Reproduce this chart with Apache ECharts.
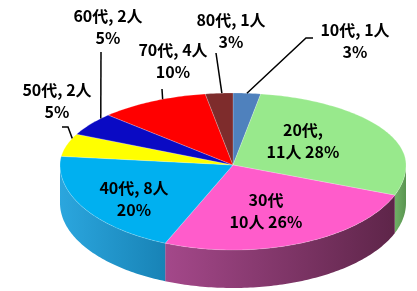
<!DOCTYPE html>
<html>
<head>
<meta charset="utf-8">
<script src="https://cdn.jsdelivr.net/npm/echarts@6/dist/echarts.min.js"></script>
<style>
  html, body { margin: 0; padding: 0; background: #fff; }
  #chart { width: 417px; height: 291px; }
</style>
</head>
<body>
<div id="chart"></div>
<script>
const ages = ["10代", "20代", "30代", "40代", "50代", "60代", "70代", "80代"];
const people = [1, 11, 10, 8, 2, 2, 4, 1];

const topColors = ["#4F81BD", "#98E98C", "#FF5CCB", "#00B0F0", "#FFFF00", "#0A0AC4", "#FF0000", "#7E2C2C"];
const sideColors = [
  ["#3C6797", "#2E5077"],
  ["#6FB065", "#5A9551"],
  ["#A4488A", "#5E2549"],
  ["#2BA6DE", "#1883B6"],
  ["#C9C900", "#A8A800"],
  ["#08089A", "#060670"],
  ["#C40000", "#8E0000"],
  ["#5E2020", "#431616"]
];

// label placement: fmt a = "X代, N人\nP%", b = "X代,\nN人 P%", c = "X代\nN人 P%"
// at = where along the slice the leader line starts (0..1)
const labelLayout = [
  { fmt: "a", x: 355, y: 41, at: 0.5, line: [[306, 38], [313, 38]] },
  { fmt: "b", x: 303, y: 141 },
  { fmt: "c", x: 266, y: 211 },
  { fmt: "a", x: 134, y: 199 },
  { fmt: "a", x: 57, y: 101, at: 0.8, line: [[68, 127], [62, 127]] },
  { fmt: "a", x: 108, y: 27, at: 0.8, line: [[101, 52]] },
  { fmt: "a", x: 173, y: 61, at: 0.6, line: [[162, 89]] },
  { fmt: "a", x: 231, y: 31, at: 0.6, line: [[216, 53]] }
];

const total = people.reduce((s, v) => s + v, 0);
const cum = [0];
people.forEach((v, i) => cum.push(cum[i] + v));

// percentages rounded so they add to 100 (largest remainder)
function percents(vals) {
  const raw = vals.map(v => v / total * 100);
  const out = raw.map(Math.floor);
  let left = 100 - out.reduce((s, v) => s + v, 0);
  const order = raw.map((r, i) => [r - Math.floor(r), i]).sort((a, b) => b[0] - a[0]);
  for (let k = 0; k < left; k++) out[order[k][1]]++;
  return out;
}
const pct = percents(people);

// 3D pie geometry
const cx = 233, cy = 165, rx = 173, ryTop = 72, ryBot = 85, depth = 38;

function rim(phi, dy) {
  const s = Math.sin(phi);
  return [cx + rx * Math.cos(phi), cy + (s < 0 ? ryTop : ryBot) * s + (dy || 0)];
}
function arc(a, b, dy) {
  const pts = [];
  const n = Math.max(2, Math.ceil((b - a) / (Math.PI / 180)));
  for (let k = 0; k <= n; k++) pts.push(rim(a + (b - a) * k / n, dy));
  return pts;
}

function renderItem(params, api) {
  const i = params.dataIndex;
  const a = -Math.PI / 2 + 2 * Math.PI * cum[i] / total;
  const b = -Math.PI / 2 + 2 * Math.PI * cum[i + 1] / total;
  const children = [];

  // front wall (only the part facing the viewer)
  const wa = Math.max(a, 0), wb = Math.min(b, Math.PI);
  if (wb > wa) {
    const pts = arc(wa, wb, 0).concat(arc(wa, wb, depth).reverse());
    children.push({
      type: "polygon",
      z2: 0,
      shape: { points: pts },
      style: {
        fill: new echarts.graphic.LinearGradient(0, 0, 1, 0, [
          { offset: 0, color: sideColors[i][0] },
          { offset: 1, color: sideColors[i][1] }
        ])
      }
    });
  }

  // top face
  children.push({
    type: "polygon",
    z2: 1,
    shape: { points: [[cx, cy]].concat(arc(a, b, 0)) },
    style: { fill: topColors[i], stroke: "rgba(255,255,255,0.35)", lineWidth: 0.6 }
  });

  // label
  const lay = labelLayout[i];
  const name = ages[i], n = api.value(0), p = pct[i];
  let text;
  if (lay.fmt === "a") text = name + ", " + n + "人\n" + p + "%";
  else if (lay.fmt === "b") text = name + ",\n" + n + "人 " + p + "%";
  else text = name + "\n" + n + "人 " + p + "%";

  if (lay.line) {
    const phi = a + (b - a) * lay.at;
    children.push({
      type: "polyline",
      z2: 5,
      shape: { points: [rim(phi, 0)].concat(lay.line) },
      style: { stroke: "#000", lineWidth: 1.5, fill: null }
    });
  }
  children.push({
    type: "text",
    z2: 10,
    style: {
      text: text,
      x: lay.x,
      y: lay.y,
      align: "center",
      verticalAlign: "middle",
      fontSize: 16,
      fontWeight: "bold",
      fontFamily: "Noto Sans CJK JP",
      lineHeight: 22,
      fill: "#000"
    }
  });

  return { type: "group", children: children };
}

const chart = echarts.init(document.getElementById("chart"));
chart.setOption({
  animation: false,
  series: [
    {
      type: "custom",
      coordinateSystem: "none",
      renderItem: renderItem,
      data: people.map((v, i) => ({ name: ages[i], value: v }))
    }
  ]
});
</script>
</body>
</html>
